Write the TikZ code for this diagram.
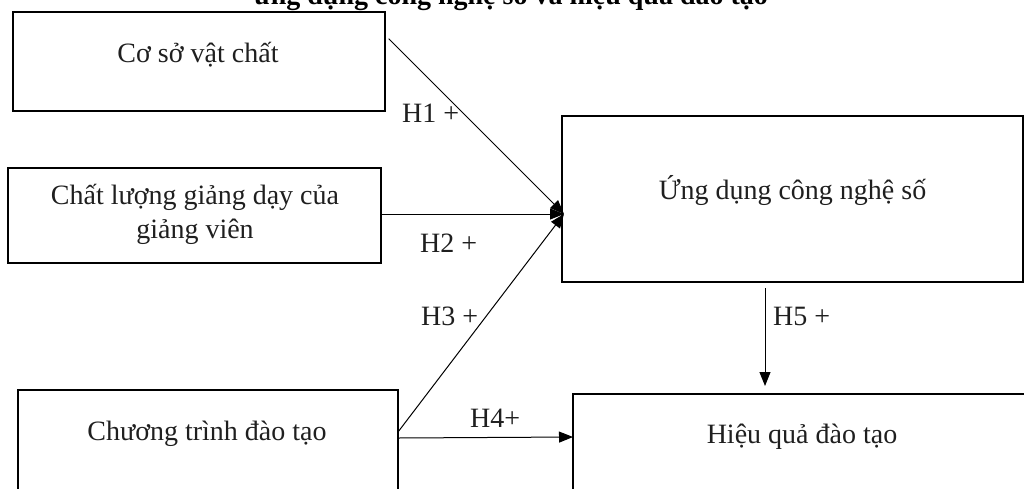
\documentclass[tikz,border=0pt]{standalone}
\usepackage{fontspec}
\setmainfont{Liberation Serif}
\usetikzlibrary{arrows.meta,calc}
\begin{document}
\begin{tikzpicture}[x=1pt,y=-1pt,
  box/.style={draw=black,line width=2pt,inner sep=0pt,outer sep=0pt,anchor=north west},
  txt/.style={anchor=base,inner sep=0pt,font=\fontsize{28}{34}\selectfont,text=black!88},
  lbl/.style={anchor=base west,inner sep=0pt,font=\fontsize{28}{34}\selectfont,text=black!88},
  conn/.style={line width=1pt,-{Triangle[length=14pt,width=11pt]}}]
\useasboundingbox (0,0) rectangle (1024,488);
\clip (0,0) rectangle (1024,488);
% title (cut off at the top)
\node[anchor=base,inner sep=0pt,font=\bfseries\fontsize{28}{34}\selectfont] (title) at (511,4) {ứng dụng công nghệ số và hiệu quả đào tạo};
% boxes
\node[box,minimum width=372pt,minimum height=99pt] (b1) at (12.7,11.7) {};
\node[box,minimum width=373pt,minimum height=95pt] (b2) at (8.4,168) {};
\node[box,minimum width=380pt,minimum height=120pt] (b3) at (18,390) {};
\node[box,minimum width=461pt,minimum height=166pt] (ung) at (562,116) {};
\node[box,minimum width=460pt,minimum height=120pt] (hieu) at (573,394) {};
% texts
\node[txt] (t1) at (198,62) {Cơ sở vật chất};
\node[txt,anchor=center,align=center] (t2) at (195,214) {Chất lượng giảng dạy của\\giảng viên};
\node[txt] (t3) at (207,440) {Chương trình đào tạo};
\node[txt] (t4) at (792.5,199) {Ứng dụng công nghệ số};
\node[txt] (t5) at (802,443) {Hiệu quả đào tạo};
% connectors
\coordinate (hub) at (564,214);
\coordinate (h5s) at (765,288);
\coordinate (h5e) at (765,386);
\draw[conn] ($(b1.north east)+(4,27)$) -- (hub);
\draw[conn] (b2.east |- hub) -- (hub);
\draw[conn] ($(b3.north east)+(0,42)$) -- (hub);
\draw[conn] ($(b3.north east)+(0,48)$) -- ($(hieu.north west)+(0,43)$);
\draw[conn] (h5s) -- (h5e);
% labels
\node[lbl] (l1) at (402,122) {H1 +};
\node[lbl] (l2) at (420,252) {H2 +};
\node[lbl] (l3) at (421,325) {H3 +};
\node[lbl] (l4) at (470,427) {H4+};
\node[lbl] (l5) at (773,325) {H5 +};
\end{tikzpicture}
\end{document}
